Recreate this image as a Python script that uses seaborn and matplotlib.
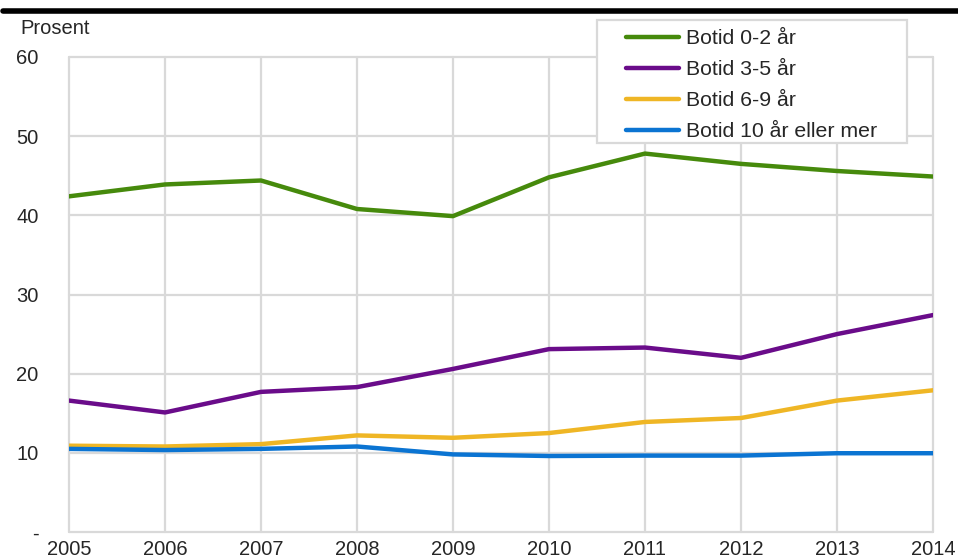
import pandas as pd
import matplotlib
matplotlib.use("Agg")
import matplotlib.pyplot as plt
import seaborn as sns
from matplotlib.patches import Rectangle

# Data
years = [2005, 2006, 2007, 2008, 2009, 2010, 2011, 2012, 2013, 2014]
botid_0_2 = [42.4, 43.9, 44.4, 40.8, 39.9, 44.8, 47.8, 46.5, 45.6, 44.9]
botid_3_5 = [16.6, 15.1, 17.7, 18.3, 20.6, 23.1, 23.3, 22.0, 25.0, 27.4]
botid_6_9 = [10.9, 10.8, 11.1, 12.2, 11.9, 12.5, 13.9, 14.4, 16.6, 17.9]
botid_10 = [10.5, 10.35, 10.5, 10.8, 9.8, 9.6, 9.65, 9.65, 9.95, 9.95]

series_names = ["Botid 0-2 år", "Botid 3-5 år", "Botid 6-9 år", "Botid 10 år eller mer"]
colors = ["#468a0c", "#6a0c8a", "#efb625", "#0b74d2"]
y_ticks = [0, 10, 20, 30, 40, 50, 60]
y_labels = ["-", "10", "20", "30", "40", "50", "60"]

df = pd.DataFrame({"År": years * 4,
                   "Prosent": botid_0_2 + botid_3_5 + botid_6_9 + botid_10,
                   "Serie": [n for n in series_names for _ in years]})

sns.set_style("white")
plt.rcParams["font.family"] = ["Liberation Sans", "DejaVu Sans"]

fig = plt.figure(figsize=(9.58, 5.6), dpi=100)
ax = fig.add_axes([69 / 958, 1 - 532 / 560, (933 - 69) / 958, (532 - 57) / 560])

sns.lineplot(data=df, x="År", y="Prosent", hue="Serie", palette=colors,
             hue_order=series_names, linewidth=3.2, ax=ax, legend=True)

ax.set_xlim(2005, 2014)
ax.set_ylim(0, 60)
ax.set_xticks(years)
ax.set_xticklabels([str(y) for y in years], fontsize=14.5)
ax.set_yticks(y_ticks)
ax.set_yticklabels(y_labels, fontsize=14.5)
ax.tick_params(axis="both", length=0)
ax.tick_params(axis="y", pad=22)
ax.tick_params(axis="x", pad=6)
ax.grid(True, color="#d9d9d9", linewidth=1.6)
ax.set_axisbelow(True)
for g in ax.get_xgridlines() + ax.get_ygridlines():
    g.set_clip_on(False)
for s in ax.spines.values():
    s.set_visible(False)
ax.set_xlabel("")
ax.set_ylabel("")

handles, labels = ax.get_legend_handles_labels()
ax.get_legend().remove()
for h in handles:
    h.set_linewidth(3.2)
fig.legend(handles, labels, loc="upper left",
           bbox_to_anchor=(626 / 958, 1 - 29 / 560), frameon=False,
           fontsize=15.3, handlelength=2.5, handletextpad=0.3,
           labelspacing=0.57, borderpad=0, borderaxespad=0).set_zorder(5)
fig.patches.append(Rectangle((597 / 958, 1 - 143 / 560), (907 - 597) / 958,
                             (143 - 20) / 560, transform=fig.transFigure,
                             facecolor="white", edgecolor="#d9d9d9",
                             linewidth=1.6, zorder=3))

fig.text(20 / 958, 1 - 29 / 560, "Prosent", fontsize=14.5, va="center", ha="left")
fig.add_artist(plt.Line2D([3 / 958, 1], [1 - 10.5 / 560, 1 - 10.5 / 560],
                          transform=fig.transFigure, color="black", linewidth=4))

fig.savefig("out.png", dpi=100)
